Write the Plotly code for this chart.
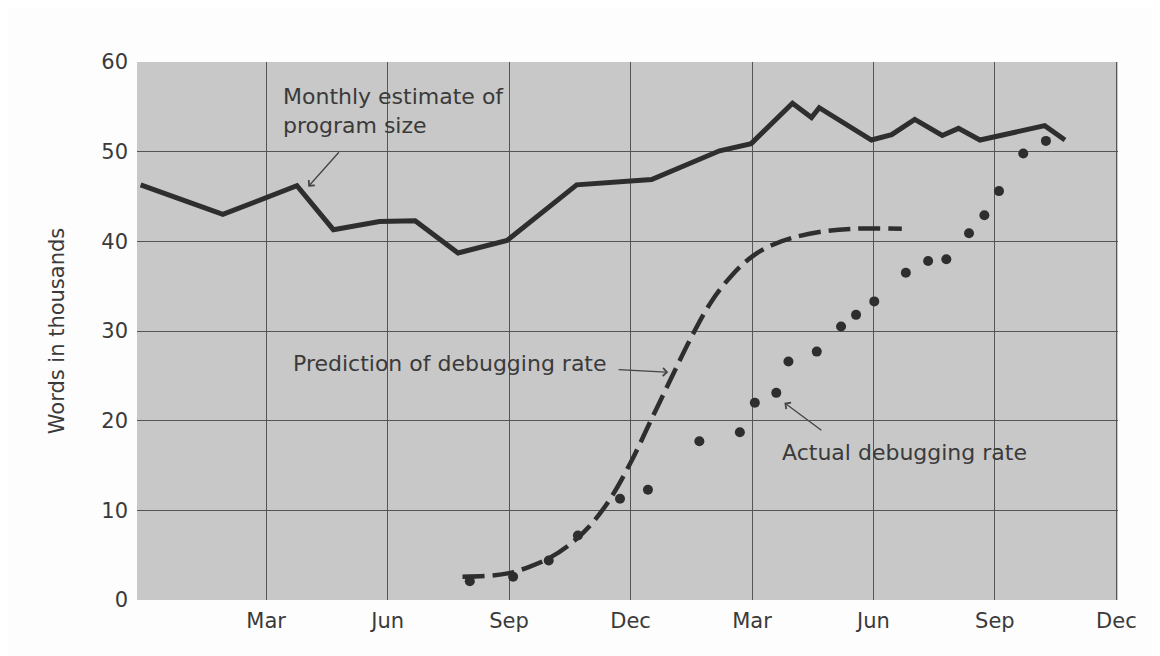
import plotly.graph_objects as go

# x values are months counted from the December at the left edge of the chart
tick_months = [3, 6, 9, 12, 15, 18, 21, 24]
tick_labels = ["Mar", "Jun", "Sep", "Dec", "Mar", "Jun", "Sep", "Dec"]

size_month = [-0.1, 1.93, 3.76, 4.66, 5.8, 6.68, 7.74, 8.95, 10.67, 12.52, 14.2, 14.98,
              16.0, 16.47, 16.66, 17.95, 18.45, 19.02, 19.7, 20.1, 20.63, 22.23, 22.73]
size_words = [46.3, 43.0, 46.2, 41.3, 42.2, 42.3, 38.7, 40.1, 46.3, 46.9, 50.1, 50.9,
              55.4, 53.8, 54.9, 51.3, 51.9, 53.6, 51.8, 52.6, 51.3, 52.9, 51.3]

pred_month = [7.85, 8.5, 9.0, 9.5, 10.0, 10.5, 11.0, 11.5, 12.0, 12.5, 13.0, 13.5,
              14.0, 14.5, 15.0, 15.5, 16.0, 16.75, 17.5, 18.7]
pred_words = [2.6, 2.7, 3.0, 3.7, 4.7, 6.2, 8.3, 11.3, 15.3, 20.0, 24.7, 29.3,
              33.3, 36.2, 38.3, 39.6, 40.4, 41.1, 41.4, 41.4]

act_month = [8.03, 9.1, 9.98, 10.7, 11.74, 12.43, 13.7, 14.7, 15.07, 15.6, 15.9, 16.6,
             17.2, 17.57, 18.02, 18.8, 19.35, 19.8, 20.36, 20.74, 21.1, 21.7, 22.26]
act_words = [2.1, 2.6, 4.4, 7.2, 11.3, 12.3, 17.7, 18.7, 22.0, 23.1, 26.6, 27.7,
             30.5, 31.8, 33.3, 36.5, 37.8, 38.0, 40.9, 42.9, 45.6, 49.8, 51.2]

INK = "#2e2e2e"
TXT = "#3a3a3a"
FONT = "DejaVu Sans"

fig = go.Figure()
fig.add_trace(go.Scatter(x=size_month, y=size_words, mode="lines",
                         line=dict(color=INK, width=5), showlegend=False))
fig.add_trace(go.Scatter(x=pred_month, y=pred_words, mode="lines",
                         line=dict(color=INK, width=4.5, dash="22px,8px", shape="spline"),
                         showlegend=False))
fig.add_trace(go.Scatter(x=act_month, y=act_words, mode="markers",
                         marker=dict(color=INK, size=10), showlegend=False))

anns = [
    dict(text="Monthly estimate of<br>program size", x=3.37, y=54.5, xanchor="left", yanchor="middle",
         showarrow=False),
    dict(text="Prediction of debugging rate", x=3.62, y=26.4, xanchor="left", yanchor="middle",
         showarrow=False),
    dict(text="Actual debugging rate", x=15.69, y=16.5, xanchor="left", yanchor="middle",
         showarrow=False),
    dict(text="", x=4.04, y=46.1, ax=4.83, ay=50.1, axref="x", ayref="y",
         showarrow=True, arrowhead=4, arrowsize=1.2, arrowwidth=1.3, arrowcolor="#444"),
    dict(text="", x=12.93, y=25.4, ax=11.67, ay=25.7, axref="x", ayref="y",
         showarrow=True, arrowhead=4, arrowsize=1.2, arrowwidth=1.3, arrowcolor="#444"),
    dict(text="", x=15.8, y=22.0, ax=16.75, ay=18.8, axref="x", ayref="y",
         showarrow=True, arrowhead=4, arrowsize=1.2, arrowwidth=1.3, arrowcolor="#444"),
]
for a in anns:
    a.update(xref="x", yref="y", font=dict(family=FONT, size=22, color=TXT), align="left")

fig.update_layout(
    width=1152, height=648,
    margin=dict(l=129, r=42, t=54, b=56),
    paper_bgcolor="#fdfdfd",
    plot_bgcolor="#c8c8c8",
    font=dict(family=FONT, size=21, color=TXT),
    annotations=anns,
)
fig.update_xaxes(range=[-0.19, 24.04], tickvals=tick_months, ticktext=tick_labels,
                 showgrid=True, gridcolor="#555555", gridwidth=1, zeroline=False,
                 showline=False, ticks="", ticklabelstandoff=6)
fig.update_yaxes(range=[0, 60], tickvals=[0, 10, 20, 30, 40, 50, 60],
                 showgrid=True, gridcolor="#555555", gridwidth=1, zeroline=False,
                 showline=False, ticks="", ticklabelstandoff=8,
                 title=dict(text="Words in thousands", font=dict(family=FONT, size=21, color=TXT),
                            standoff=30))

fig.write_html("out.html")
